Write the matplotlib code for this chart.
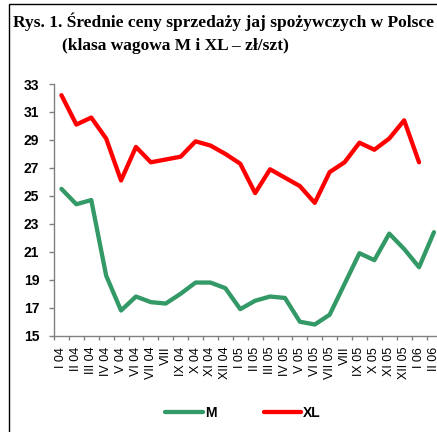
import numpy as np
import matplotlib.pyplot as plt
from matplotlib.patches import Rectangle

months = ['I 04', 'II 04', 'III 04', 'IV 04', 'V 04', 'VI 04', 'VII 04', 'VIII',
          'IX 04', 'X 04', 'XI 04', 'XII 04', 'I 05', 'II 05', 'III 05', 'IV 05',
          'V 05', 'VI 05', 'VII 05', 'VIII', 'IX 05', 'X 05', 'XI 05', 'XII 05',
          'I 06', 'II 06']

# average monthly prices, class M and class XL (no XL figure for II 06)
m_price = [25.5, 24.4, 24.7, 19.3, 16.8, 17.8, 17.4, 17.3, 18.0, 18.8, 18.8, 18.4,
           16.9, 17.5, 17.8, 17.7, 16.0, 15.8, 16.5, 18.7, 20.9, 20.4, 22.3, 21.2,
           19.9, 22.4]
xl_price = [32.2, 30.1, 30.6, 29.1, 26.1, 28.5, 27.4, 27.6, 27.8, 28.9, 28.6, 28.0,
            27.3, 25.2, 26.9, 26.3, 25.7, 24.5, 26.7, 27.4, 28.8, 28.3, 29.1, 30.4,
            27.4]

yticks = list(range(15, 34, 2))

fig = plt.figure(figsize=(4.37, 4.32), dpi=100)

# frame around the whole figure
fig.patches.append(Rectangle((8.5 / 437, -0.05), 1.2, (432 - 4) / 432 + 0.05,
                             transform=fig.transFigure, fill=False,
                             edgecolor='black', linewidth=1.0))

fig.text(13 / 437, 1 - 27 / 432, 'Rys. 1. Średnie ceny sprzedaży jaj spożywczych w Polsce',
         family='Liberation Serif', weight='bold', fontsize=12.5, va='baseline', ha='left')
fig.text(62 / 437, 1 - 50 / 432, '(klasa wagowa M i XL – zł/szt)',
         family='Liberation Serif', weight='bold', fontsize=12.5, va='baseline', ha='left')

ax = fig.add_axes([54 / 437, 96.3 / 432, 387.4 / 437, 251.7 / 432])

x = np.arange(len(months))
ax.plot(x, m_price, color='#339966', lw=3.1, solid_capstyle='round',
        solid_joinstyle='round', label='M')
ax.plot(x[:len(xl_price)], xl_price, color='#ff0000', lw=3.1, solid_capstyle='round',
        solid_joinstyle='round', label='XL')

ax.set_xlim(-0.5, len(months) - 0.5)
ax.set_ylim(15, 33)
ax.set_yticks(yticks)
ax.set_yticklabels([str(v) for v in yticks], family='Liberation Sans',
                   weight='bold', fontsize=10)
ax.set_xticks(x)
ax.set_xticklabels(months, rotation=90, family='Liberation Sans', fontsize=9, va='top')
ax.set_xticks(np.arange(-0.5, len(months), 1), minor=True)

for s in ['top', 'right']:
    ax.spines[s].set_visible(False)
for s in ['left', 'bottom']:
    ax.spines[s].set_color('#808080')
    ax.spines[s].set_linewidth(1.0)

ax.tick_params(axis='y', direction='out', length=3.6, width=1, color='#808080', pad=7)
ax.tick_params(axis='x', which='major', length=0, pad=8)
ax.tick_params(axis='x', which='minor', direction='out', length=3, width=1, color='#808080')

fig.legend(loc='center', bbox_to_anchor=(243 / 437, 19 / 432), ncol=2, frameon=False,
           prop={'family': 'Liberation Sans', 'weight': 'bold', 'size': 10},
           handlelength=2.7, handletextpad=0.15, columnspacing=3.4)

fig.savefig('out.png', dpi=100)
